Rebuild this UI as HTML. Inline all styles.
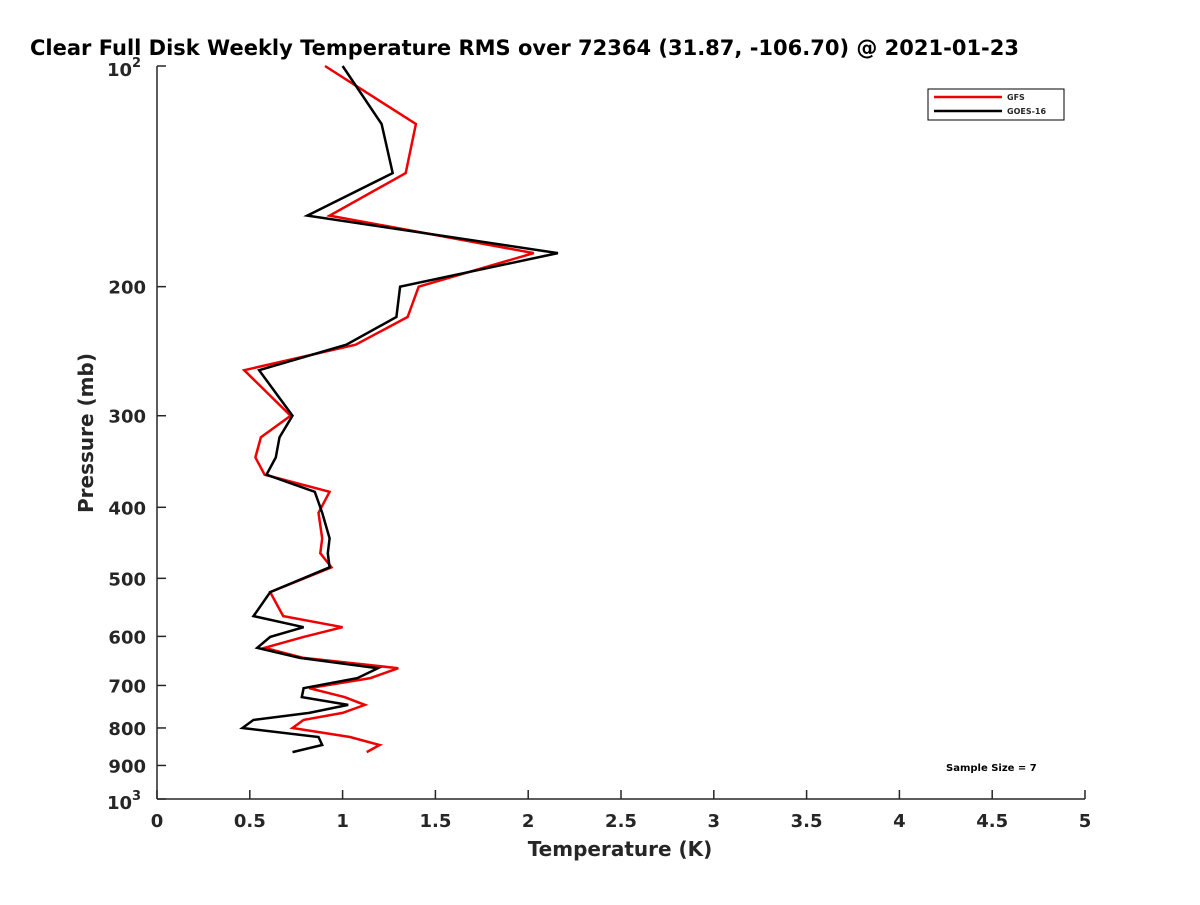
<!DOCTYPE html>
<html><head><meta charset="utf-8"><style>
body{margin:0;background:#fff;}
svg text{font-family:"DejaVu Sans","Liberation Sans",sans-serif;font-weight:bold;fill:#262626;}
</style></head><body>
<svg id="chart" width="1200" height="900" xmlns="http://www.w3.org/2000/svg">
<rect width="1200" height="900" fill="#fff"/>
<text x="30" y="55" font-size="21" fill="#000" style="fill:#000">Clear Full Disk Weekly Temperature RMS over 72364 (31.87, -106.70) @ 2021-01-23</text>
<g id="axes"></g>
<g id="series"></g>
<g>
<rect x="928" y="89" width="136" height="31" fill="#fff" stroke="#000" stroke-width="1"/>
<line x1="934" y1="97" x2="1002" y2="97" stroke="#e00" stroke-width="2.5"/>
<text x="1007" y="100" font-size="8">GFS</text>
<line x1="934" y1="111" x2="1002" y2="111" stroke="#000" stroke-width="2.5"/>
<text x="1007" y="114" font-size="8">GOES-16</text>
</g>
<text x="946" y="771" font-size="10" style="fill:#000">Sample Size = 7</text>
<text x="620" y="856" font-size="20" text-anchor="middle">Temperature (K)</text>
<text transform="translate(93,433) rotate(-90)" font-size="20" text-anchor="middle">Pressure (mb)</text>
</svg>
<script>
const pressures=[100,120,140,160,180,200,220,240,260,300,321,342,361,381,407,441,462,483,522,563,583,601,622,642,663,684,706,726,744,763,780,800,823,844,863];
const gfsValues=[0.905,1.395,1.34,0.93,2.03,1.41,1.35,1.07,0.47,0.72,0.56,0.53,0.58,0.93,0.87,0.89,0.88,0.94,0.61,0.68,1.00,0.79,0.58,0.79,1.30,1.15,0.82,1.01,1.12,1.00,0.79,0.73,1.04,1.20,1.13];
const goesValues=[1.00,1.21,1.27,0.81,2.16,1.31,1.29,1.02,0.55,0.73,0.66,0.64,0.59,0.85,0.89,0.93,0.92,0.93,0.61,0.52,0.79,0.61,0.54,0.77,1.19,1.08,0.79,0.78,1.03,0.82,0.52,0.46,0.87,0.89,0.73];
const xTicks=[0,0.5,1,1.5,2,2.5,3,3.5,4,4.5,5];
const xTickLabels=["0","0.5","1","1.5","2","2.5","3","3.5","4","4.5","5"];
const yTicks=[200,300,400,500,600,700,800,900];
const L=157,R=1085,T=66,B=799;
const xs=v=>L+(v/5)*(R-L);
const ys=p=>T+(Math.log10(p)-2)*(B-T);
const NS="http://www.w3.org/2000/svg";
const ax=document.getElementById('axes'),se=document.getElementById('series');
function mk(tag,attrs,parent){const e=document.createElementNS(NS,tag);for(const k in attrs)e.setAttribute(k,attrs[k]);parent.appendChild(e);return e;}
let a=mk('line',{x1:L,y1:B,x2:R,y2:B,stroke:'#262626','stroke-width':1.5},ax);


a=mk('line',{x1:L,y1:T,x2:L,y2:B,stroke:'#262626','stroke-width':1.5},ax);


xTicks.forEach((v,i)=>{
 const t=mk('line',{x1:xs(v),y1:B,x2:xs(v),y2:B-9,stroke:'#262626','stroke-width':1.5},ax);
 
 
 const tx=mk('text',{x:xs(v),y:B+28,'font-size':18,'text-anchor':'middle'},ax);
 tx.textContent=xTickLabels[i];
 
 
});
yTicks.forEach(p=>{
 const t=mk('line',{x1:L,y1:ys(p),x2:L+9,y2:ys(p),stroke:'#262626','stroke-width':1.5},ax);
 
 
 const tx=mk('text',{x:L-11,y:ys(p)+7,'font-size':18,'text-anchor':'end'},ax);
 tx.textContent=String(p);
 
 
});
[[100,'2'],[1000,'3']].forEach(([p,e])=>{
 const t=mk('line',{x1:L,y1:ys(p),x2:L+9,y2:ys(p),stroke:'#262626','stroke-width':1.5},ax);
 
 
 const tx=mk('text',{x:L-25,y:ys(p)+10,'font-size':18,'text-anchor':'end'},ax);
 tx.textContent='10';
 
 
 const sx=mk('text',{x:L-25,y:ys(p)+1,'font-size':13},ax);
 sx.textContent=e;
 
 
});
function line(vals,color,name){
 const pts=vals.map((v,i)=>xs(v).toFixed(1)+','+ys(pressures[i]).toFixed(1)).join(' ');
 const pl=mk('polyline',{points:pts,fill:'none',stroke:color,'stroke-width':2.5,'stroke-linejoin':'miter'},se);
 
 
}
line(gfsValues,'#e00','gfs-line');
line(goesValues,'#000','goes16-line');
</script>
</body></html>
